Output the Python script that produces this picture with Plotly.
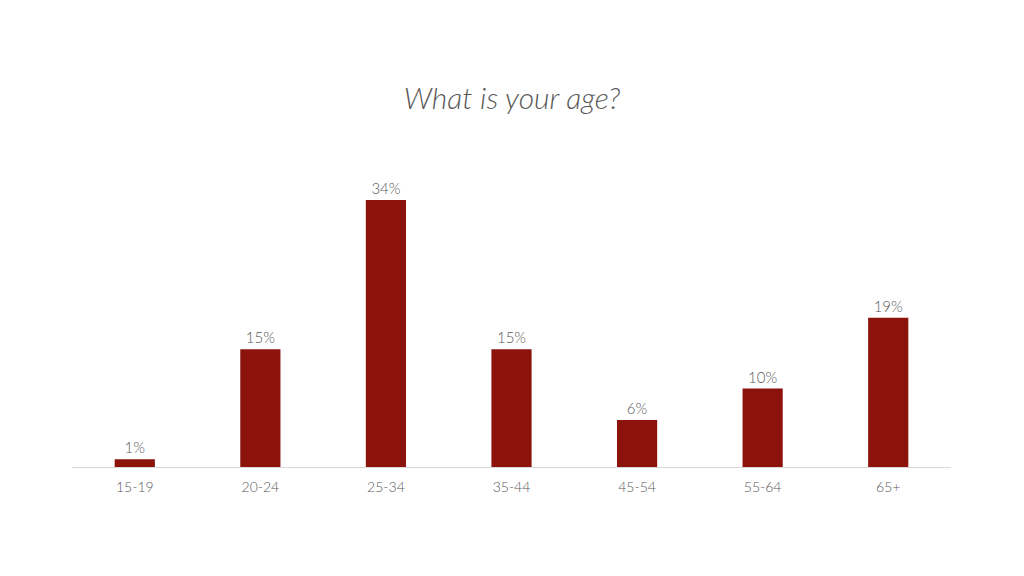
import plotly.graph_objects as go

age_groups = ["15-19", "20-24", "25-34", "35-44", "45-54", "55-64", "65+"]
share_pct = [1, 15, 34, 15, 6, 10, 19]

bar_labels = [f"{v}%" for v in share_pct]

fig = go.Figure()

fig.add_trace(go.Bar(
    x=age_groups,
    y=share_pct,
    text=bar_labels,
    textposition="outside",
    cliponaxis=False,
    marker=dict(color="#8B130B", line=dict(width=0)),
    textfont=dict(family="Lato", size=15, color="#595959", weight=300),
    hoverinfo="skip",
))

# page body adds an 8px margin, so margins are offset by that amount
fig.update_layout(
    title=dict(
        text="<i>What is your age?</i>",
        x=504 / 1024,
        xanchor="center",
        y=1 - 90 / 576,
        yanchor="middle",
        font=dict(family="Lato", size=30, color="#595959", weight=300),
    ),
    width=1024,
    height=576,
    margin=dict(l=64, r=81, t=145, b=117),
    bargap=0.68,
    plot_bgcolor="white",
    paper_bgcolor="white",
    showlegend=False,
)
fig.update_xaxes(
    showline=True,
    linecolor="#D9D9D9",
    linewidth=1,
    showgrid=False,
    ticks="outside",
    ticklen=7,
    tickcolor="rgba(0,0,0,0)",
    tickfont=dict(family="Lato", size=14, color="#595959", weight=300),
)
fig.update_yaxes(
    range=[0, 40],
    visible=False,
    showgrid=False,
    zeroline=False,
)

fig.write_html("out.html")
